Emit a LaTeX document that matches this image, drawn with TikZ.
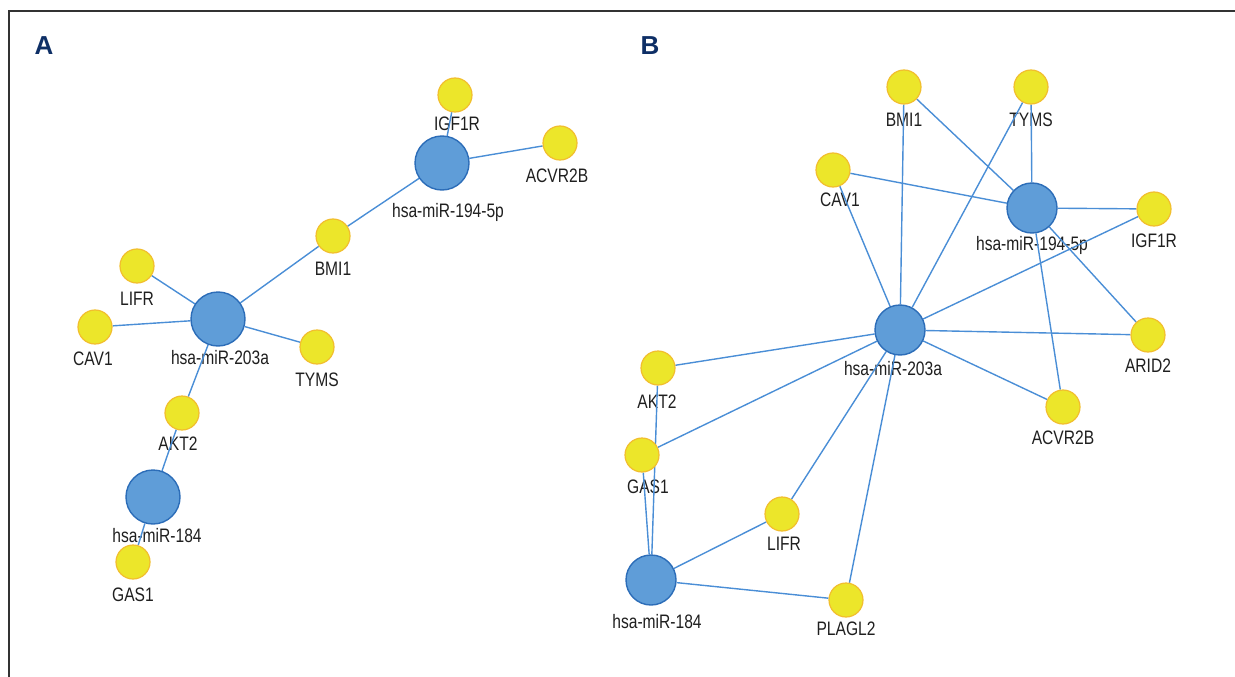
\documentclass[tikz,border=0pt]{standalone}
\usepackage{fontspec}
\setmainfont{Liberation Sans}[FakeStretch=0.8]
\newfontfamily\panelfont{Liberation Sans}
\usepackage{tikz}
\usetikzlibrary{backgrounds}
\definecolor{genefill}{HTML}{ECE62A}
\definecolor{generim}{HTML}{F2BE2E}
\definecolor{mirfill}{HTML}{5F9DD8}
\definecolor{mirrim}{HTML}{2C6DB8}
\definecolor{edgeblue}{HTML}{4A8ED6}
\definecolor{navy}{HTML}{0E2F66}
\definecolor{frame}{HTML}{333333}

\begin{document}
\begin{tikzpicture}[x=1pt,y=-1pt,
  gene/.style={circle,draw=generim,line width=1.2pt,fill=genefill,minimum size=34pt,inner sep=0pt},
  mir/.style={circle,draw=mirrim,line width=1.4pt,fill=mirfill,minimum size=54pt,inner sep=0pt},
  mirb/.style={mir,minimum size=50pt},
  lbl/.style={anchor=base,font=\fontsize{19.5}{21}\selectfont,text=black!88,inner sep=0pt},
  panel/.style={anchor=base,font=\panelfont\bfseries\fontsize{26}{28}\selectfont,text=navy},
  edge/.style={draw=edgeblue,line width=1.4pt}]
  \useasboundingbox (0,0) rectangle (1235,677);
  \draw[frame,line width=1.2pt] (9,677) -- (9,11) -- (1235,11);
  \node[panel] (pa) at (44,55) {A};
  \node[panel] (pb) at (650,55) {B};
  % panel A
  \node[mir]  (a194) at (442,163) {};
  \node[gene] (aigf) at (455,95) {};
  \node[gene] (aacv) at (560,143) {};
  \node[gene] (abmi) at (333,236) {};
  \node[mir]  (a203) at (218,319) {};
  \node[gene] (alifr) at (137,266) {};
  \node[gene] (acav) at (95,327) {};
  \node[gene] (atyms) at (317,347) {};
  \node[gene] (aakt) at (182,413) {};
  \node[mir]  (a184) at (153,497) {};
  \node[gene] (agas) at (133,562) {};
  % panel B
  \node[gene] (bbmi) at (904,87) {};
  \node[gene] (btyms) at (1031,87) {};
  \node[gene] (bcav) at (833,170) {};
  \node[mirb] (b194) at (1032,208) {};
  \node[gene] (bigf) at (1154,209) {};
  \node[mirb] (b203) at (900,330) {};
  \node[gene] (barid) at (1148,335) {};
  \node[gene] (bacv) at (1063,407) {};
  \node[gene] (bakt) at (658,368) {};
  \node[gene] (bgas) at (642,455) {};
  \node[gene] (blifr) at (782,514) {};
  \node[mirb] (b184) at (651,580) {};
  \node[gene] (bplag) at (846,600) {};
  \begin{pgfonlayer}{background}
    % labels
    \node[lbl] (a194-t) at (448,217) {hsa-miR-194-5p};
    \node[lbl] (aigf-t) at (457,130) {IGF1R};
    \node[lbl] (aacv-t) at (557,182) {ACVR2B};
    \node[lbl] (abmi-t) at (333,275) {BMI1};
    \node[lbl] (a203-t) at (220,364) {hsa-miR-203a};
    \node[lbl] (alifr-t) at (137,305) {LIFR};
    \node[lbl] (acav-t) at (93,365) {CAV1};
    \node[lbl] (atyms-t) at (317,386) {TYMS};
    \node[lbl] (aakt-t) at (178,450) {AKT2};
    \node[lbl] (a184-t) at (157,542) {hsa-miR-184};
    \node[lbl] (agas-t) at (133,601) {GAS1};
    \node[lbl] (bbmi-t) at (904,126) {BMI1};
    \node[lbl] (btyms-t) at (1031,126) {TYMS};
    \node[lbl] (bcav-t) at (840,206) {CAV1};
    \node[lbl] (b194-t) at (1032,250) {hsa-miR-194-5p};
    \node[lbl] (bigf-t) at (1154,247) {IGF1R};
    \node[lbl] (b203-t) at (893,375) {hsa-miR-203a};
    \node[lbl] (barid-t) at (1148,372) {ARID2};
    \node[lbl] (bacv-t) at (1063,444) {ACVR2B};
    \node[lbl] (bakt-t) at (657,408) {AKT2};
    \node[lbl] (bgas-t) at (648,493) {GAS1};
    \node[lbl] (blifr-t) at (784,550) {LIFR};
    \node[lbl] (b184-t) at (657,628) {hsa-miR-184};
    \node[lbl] (bplag-t) at (846,635) {PLAGL2};
    % edges A
    \draw[edge] (a194) -- (aigf);
    \draw[edge] (a194) -- (aacv);
    \draw[edge] (a194) -- (abmi);
    \draw[edge] (a203) -- (abmi);
    \draw[edge] (a203) -- (alifr);
    \draw[edge] (a203) -- (acav);
    \draw[edge] (a203) -- (atyms);
    \draw[edge] (a203) -- (aakt);
    \draw[edge] (a184) -- (aakt);
    \draw[edge] (a184) -- (agas);
    % edges B
    \draw[edge] (b194) -- (bbmi);
    \draw[edge] (b194) -- (btyms);
    \draw[edge] (b194) -- (bcav);
    \draw[edge] (b194) -- (bigf);
    \draw[edge] (b194) -- (barid);
    \draw[edge] (b194) -- (bacv);
    \draw[edge] (b203) -- (bbmi);
    \draw[edge] (b203) -- (btyms);
    \draw[edge] (b203) -- (bcav);
    \draw[edge] (b203) -- (bigf);
    \draw[edge] (b203) -- (barid);
    \draw[edge] (b203) -- (bacv);
    \draw[edge] (b203) -- (bakt);
    \draw[edge] (b203) -- (bgas);
    \draw[edge] (b203) -- (blifr);
    \draw[edge] (b203) -- (bplag);
    \draw[edge] (b184) -- (bakt);
    \draw[edge] (b184) -- (bgas);
    \draw[edge] (b184) -- (blifr);
    \draw[edge] (b184) -- (bplag);
  \end{pgfonlayer}
\end{tikzpicture}
\end{document}
